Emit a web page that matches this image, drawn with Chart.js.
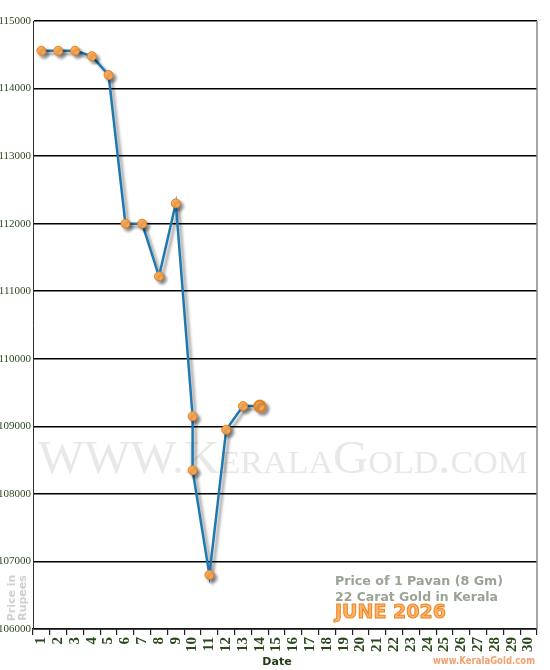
<!DOCTYPE html>
<html>
<head>
<meta charset="utf-8">
<script src="https://cdn.jsdelivr.net/npm/chart.js"></script>
<style>
  html, body { margin:0; padding:0; background:#fff; }
  #wrap { width:550px; height:670px; }
</style>
</head>
<body>
<div id="wrap"><canvas id="goldChart" width="550" height="670"></canvas></div>
<script>
// DATA
var days = [];
for (var d = 1; d <= 30; d++) days.push(String(d));

// day 10 had two rate changes
var pointDays = ['1','2','3','4','5','6','7','8','9','10','10','11','12','13','14'];
var prices    = [114560,114560,114560,114480,114200,112000,112000,111220,112300,109150,108350,106800,108950,109300,109300];

var yTicks = [106000,107000,108000,109000,110000,111000,112000,113000,114000,115000];

var titleLines = ['Price of 1 Pavan (8 Gm)', '22 Carat Gold in Kerala'];
var monthLabel = 'JUNE 2026';

var green = '#2a4a1d';

// extra text + borders + shadow
var decor = {
  id: 'decor',
  beforeDatasetsDraw: function(chart){
    var c = chart.ctx;
    // watermark
    c.save();
    c.fillStyle = '#e8e8e6';
    c.textBaseline = 'alphabetic';
    c.font = 'small-caps 46px "Liberation Serif", serif';
    var w = c.measureText('WWW.KeralaGold.com').width;
    c.translate(38, 473);
    c.scale(490 / w, 1);
    c.fillText('WWW.KeralaGold.com', 0, 0);
    c.restore();

    // shadow for line + points
    c.save();
    c.shadowColor = 'rgba(0,0,0,0.4)';
    c.shadowBlur = 3;
    c.shadowOffsetX = 3;
    c.shadowOffsetY = 3;
  },
  afterDatasetsDraw: function(chart){
    chart.ctx.restore();
  },
  afterDraw: function(chart){
    var c = chart.ctx, a = chart.chartArea;
    c.save();
    // right border
    c.strokeStyle = '#888';
    c.lineWidth = 1.5;
    c.beginPath(); c.moveTo(a.right, a.top); c.lineTo(a.right, a.bottom); c.stroke();

    // info box text
    c.textBaseline = 'alphabetic';
    c.textAlign = 'left';
    c.fillStyle = '#9aa396';
    c.font = 'bold 13px "DejaVu Sans", Verdana, sans-serif';
    c.fillText(titleLines[0], 335, 585, 168);
    c.fillText(titleLines[1], 335, 601, 163);

    c.font = 'bold 19px "DejaVu Sans", Verdana, sans-serif';
    c.fillStyle = '#fab46a';
    c.strokeStyle = '#ee8420';
    c.lineWidth = 1;
    c.fillText(monthLabel, 335, 618, 113);
    c.strokeText(monthLabel, 335, 618, 113);

    // footer site name
    c.font = 'bold 10px "DejaVu Sans", Verdana, sans-serif';
    c.fillStyle = '#f3a070';
    c.textAlign = 'right';
    c.fillText('www.KeralaGold.com', 535, 664, 102);

    // x title
    c.textAlign = 'center';
    c.font = 'bold 11px "DejaVu Sans", Verdana, sans-serif';
    c.fillStyle = '#1f3a15';
    c.fillText('Date', 277, 665);

    // y title, rotated
    c.save();
    c.translate(0, 598);
    c.rotate(-Math.PI/2);
    c.fillStyle = '#d0d0d0';
    c.font = 'bold 11px "DejaVu Sans", Verdana, sans-serif';
    c.textAlign = 'center';
    c.fillText('Price in', 0, 15);
    c.fillText('Rupees', 0, 26);
    c.restore();
    c.restore();
  }
};

var pointSizes = prices.map(function(v, i){ return i === prices.length - 1 ? 5.5 : 4.5; });
var pointBorders = prices.map(function(v, i){ return i === prices.length - 1 ? 2 : 1; });

new Chart(document.getElementById('goldChart').getContext('2d'), {
  type: 'line',
  data: {
    labels: days,
    datasets: [{
      data: pointDays.map(function(d, i){ return { x: d, y: prices[i] }; }),
      borderColor: '#1f78b0',
      borderWidth: 2.5,
      tension: 0,
      fill: false,
      pointRadius: pointSizes,
      pointBorderWidth: pointBorders,
      pointBackgroundColor: '#fbac5a',
      pointBorderColor: '#e5801f'
    }]
  },
  options: {
    responsive: false,
    animation: false,
    events: [],
    layout: { padding: { top: 21, right: 13, left: 0, bottom: 0 } },
    plugins: { legend: { display: false }, tooltip: { enabled: false } },
    scales: {
      x: {
        type: 'category',
        offset: true,
        grid: { offset: true, drawOnChartArea: false, drawTicks: true, tickLength: 6, color: '#222', lineWidth: 1.2 },
        border: { color: '#111', width: 1.5 },
        ticks: {
          minRotation: 90, maxRotation: 90, autoSkip: false, padding: 2,
          color: green,
          font: { family: 'Liberation Serif', size: 15, weight: 'bold' }
        },
        afterFit: function(s){ s.height = 41; }
      },
      y: {
        min: 106000, max: 115000,
        afterBuildTicks: function(s){ s.ticks = yTicks.map(function(v){ return { value: v }; }); },
        grid: { color: '#000', lineWidth: 1.5, drawTicks: false },
        border: { color: '#333', width: 1 },
        ticks: {
          padding: 2,
          color: green,
          font: { family: 'Liberation Serif', size: 11 },
          callback: function(v){ return String(v); }
        },
        afterFit: function(s){ s.width = 33; }
      }
    }
  },
  plugins: [decor]
});
</script>
</body>
</html>
